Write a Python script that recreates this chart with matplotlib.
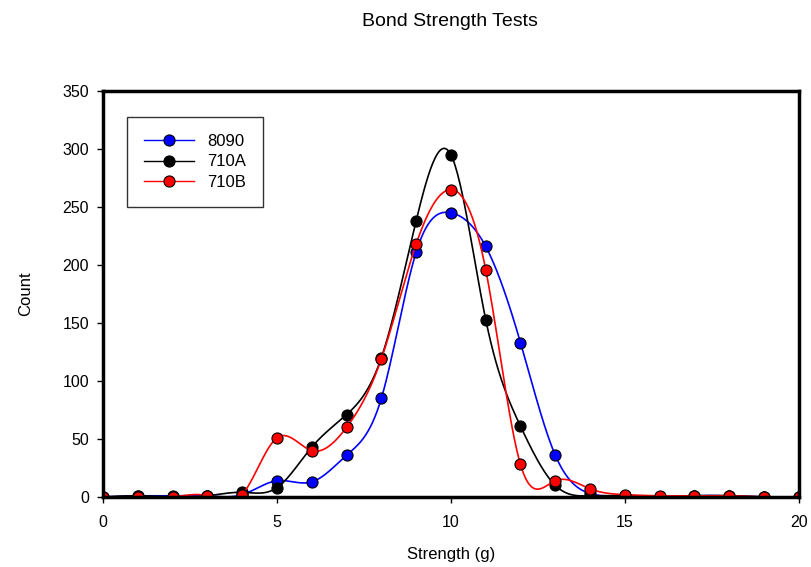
import numpy as np
import matplotlib
matplotlib.use("Agg")
import matplotlib.pyplot as plt

plt.rcParams['font.family'] = ['Liberation Sans', 'DejaVu Sans']

strength = list(range(0, 21))
count_8090 = [0, 1, 1, 1, 2, 14, 13, 36, 85, 211, 245, 216, 133, 36, 3, 1, 0, 1, 1, 0, 0]
count_710a = [0, 1, 0, 1, 4, 8, 43, 71, 120, 238, 295, 153, 61, 10, 1, 1, 0, 1, 1, 0, 0]
count_710b = [0, 0, 0, 1, 2, 51, 40, 60, 119, 218, 265, 196, 28, 14, 7, 2, 1, 1, 1, 0, 0]


def natural_spline(x, y, n=600):
    # plain natural cubic spline, no scipy needed
    x = np.asarray(x, float)
    y = np.asarray(y, float)
    k = len(x)
    h = np.diff(x)
    A = np.zeros((k, k))
    b = np.zeros(k)
    A[0, 0] = 1
    A[-1, -1] = 1
    for i in range(1, k - 1):
        A[i, i - 1] = h[i - 1]
        A[i, i] = 2 * (h[i - 1] + h[i])
        A[i, i + 1] = h[i]
        b[i] = 6 * ((y[i + 1] - y[i]) / h[i] - (y[i] - y[i - 1]) / h[i - 1])
    M = np.linalg.solve(A, b)
    xs = np.linspace(x[0], x[-1], n)
    idx = np.clip(np.searchsorted(x, xs) - 1, 0, k - 2)
    x0, x1 = x[idx], x[idx + 1]
    hh = x1 - x0
    t0, t1 = x1 - xs, xs - x0
    ys = (M[idx] * t0**3 + M[idx + 1] * t1**3) / (6 * hh) \
        + (y[idx] / hh - M[idx] * hh / 6) * t0 \
        + (y[idx + 1] / hh - M[idx + 1] * hh / 6) * t1
    return xs, ys


fig = plt.figure(figsize=(8.11, 5.67), dpi=100)
ax = fig.add_axes([0.127, 0.1235, 0.858, 0.716])

series = [("8090", count_8090, "#0000ff"),
          ("710A", count_710a, "#000000"),
          ("710B", count_710b, "#ff0000")]

for name, vals, col in series:
    xs, ys = natural_spline(strength, vals)
    ax.plot(xs, ys, color=col, lw=1.2)
    ax.plot(strength, vals, 'o', color=col, mec='black', mew=0.8, ms=8)
    # legend proxy
    ax.plot([], [], '-o', color=col, mfc=col, mec='black', mew=0.8, ms=8, lw=1, label=name)

ax.set_xlim(0, 20)
ax.set_ylim(0, 350)
ax.set_xticks([0, 5, 10, 15, 20])
ax.set_yticks(range(0, 351, 50))
for s in ax.spines.values():
    s.set_linewidth(2.5)
ax.tick_params(direction='out', length=4, width=1, labelsize=11.5)
ax.tick_params(axis='x', pad=9)
ax.tick_params(axis='y', pad=6)
ax.set_xlabel("Strength (g)", fontsize=12, labelpad=12)
ax.set_ylabel("Count", fontsize=12, labelpad=21)
fig.text(0.555, 0.962, "Bond Strength Tests", ha='center', va='center', fontsize=14)

leg = ax.legend(loc='upper left', bbox_to_anchor=(0.0345, 0.936), fontsize=12,
                frameon=True, fancybox=False, edgecolor='black', handlelength=3.0,
                borderpad=1.0, labelspacing=0.35, handletextpad=0.8, borderaxespad=0)
leg.get_frame().set_linewidth(1)

fig.savefig("out.png", dpi=100)
